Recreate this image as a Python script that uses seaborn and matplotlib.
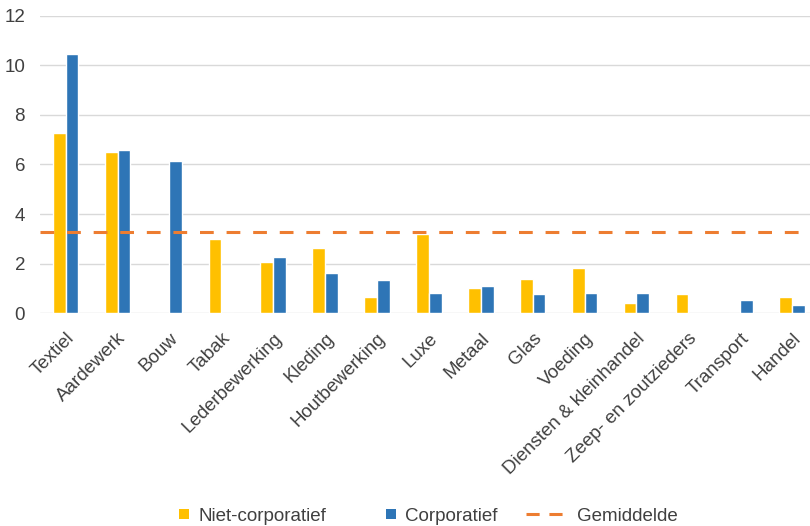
import seaborn as sns
import pandas as pd
import matplotlib.pyplot as plt
from matplotlib.lines import Line2D
from matplotlib.patches import Patch, Rectangle
from matplotlib.legend_handler import HandlerPatch

# data
categories = ['Textiel', 'Aardewerk', 'Bouw', 'Tabak', 'Lederbewerking', 'Kleding',
              'Houtbewerking', 'Luxe', 'Metaal', 'Glas', 'Voeding',
              'Diensten & kleinhandel', 'Zeep- en zoutzieders', 'Transport', 'Handel']
niet_corporatief = [7.27, 6.5, 0, 3.0, 2.07, 2.63, 0.66, 3.2, 1.02, 1.38, 1.83, 0.42, 0.78, 0, 0.66]
corporatief = [10.46, 6.58, 6.14, 0, 2.27, 1.62, 1.34, 0.82, 1.1, 0.78, 0.82, 0.82, 0, 0.54, 0.33]
gemiddelde = 3.27

series = ['Niet-corporatief', 'Corporatief']
colors = ['#FFC000', '#2E75B6']
avg_color = '#ED7D31'

df = pd.DataFrame({
    'categorie': categories * 2,
    'reeks': [series[0]] * len(categories) + [series[1]] * len(categories),
    'waarde': niet_corporatief + corporatief,
})


class SquareHandler(HandlerPatch):
    # small square drawn at the right end of the handle box
    def create_artists(self, legend, orig_handle, xdescent, ydescent, width, height, fontsize, trans):
        s = 7.2
        r = Rectangle((-xdescent + width - s, -ydescent + (height - s) / 2), s, s,
                      facecolor=orig_handle.get_facecolor(), edgecolor='none', transform=trans)
        return [r]


sns.set_style('white')
plt.rcParams['font.family'] = ['Liberation Sans', 'DejaVu Sans']

fig = plt.figure(figsize=(8.1, 5.26), dpi=100)
# plot area runs slightly past the right edge of the image, as in the reference
ax = fig.add_axes([0.049, 0.4044, 0.961, 0.5658])

sns.barplot(data=df, x='categorie', y='waarde', hue='reeks', palette=colors,
            width=0.49, gap=0, saturation=1, ax=ax, legend=False)

ax.axhline(gemiddelde, color=avg_color, lw=2.2, dashes=(4.5, 4.2), zorder=3)

ax.set_ylim(0, 12)
ax.set_yticks(range(0, 13, 2))
ax.set_xlim(-0.5, len(categories) - 0.5)
ax.grid(axis='y', color='#D9D9D9', lw=1)
ax.set_axisbelow(True)
for s in ax.spines.values():
    s.set_visible(False)
ax.set_xlabel('')
ax.set_ylabel('')
ax.tick_params(axis='both', length=0, labelsize=13.5, labelcolor='#404040')
ax.tick_params(axis='x', pad=12)
ax.tick_params(axis='y', pad=10.5)
plt.setp(ax.get_xticklabels(), rotation=45, ha='right', rotation_mode='anchor')

handles = [Patch(facecolor=colors[0], label=series[0]),
           Patch(facecolor=colors[1], label=series[1]),
           Line2D([0], [0], color=avg_color, lw=2.2, dashes=(4.3, 3.2), label='Gemiddelde')]
fig.legend(handles=handles, loc='lower center', bbox_to_anchor=(0.5095, -0.03), ncol=3,
           frameon=False, fontsize=13.5, handlelength=2.2, handletextpad=0.5,
           columnspacing=1.5, labelcolor='#404040',
           handler_map={Patch: SquareHandler()})

fig.savefig('out.png', dpi=100)
